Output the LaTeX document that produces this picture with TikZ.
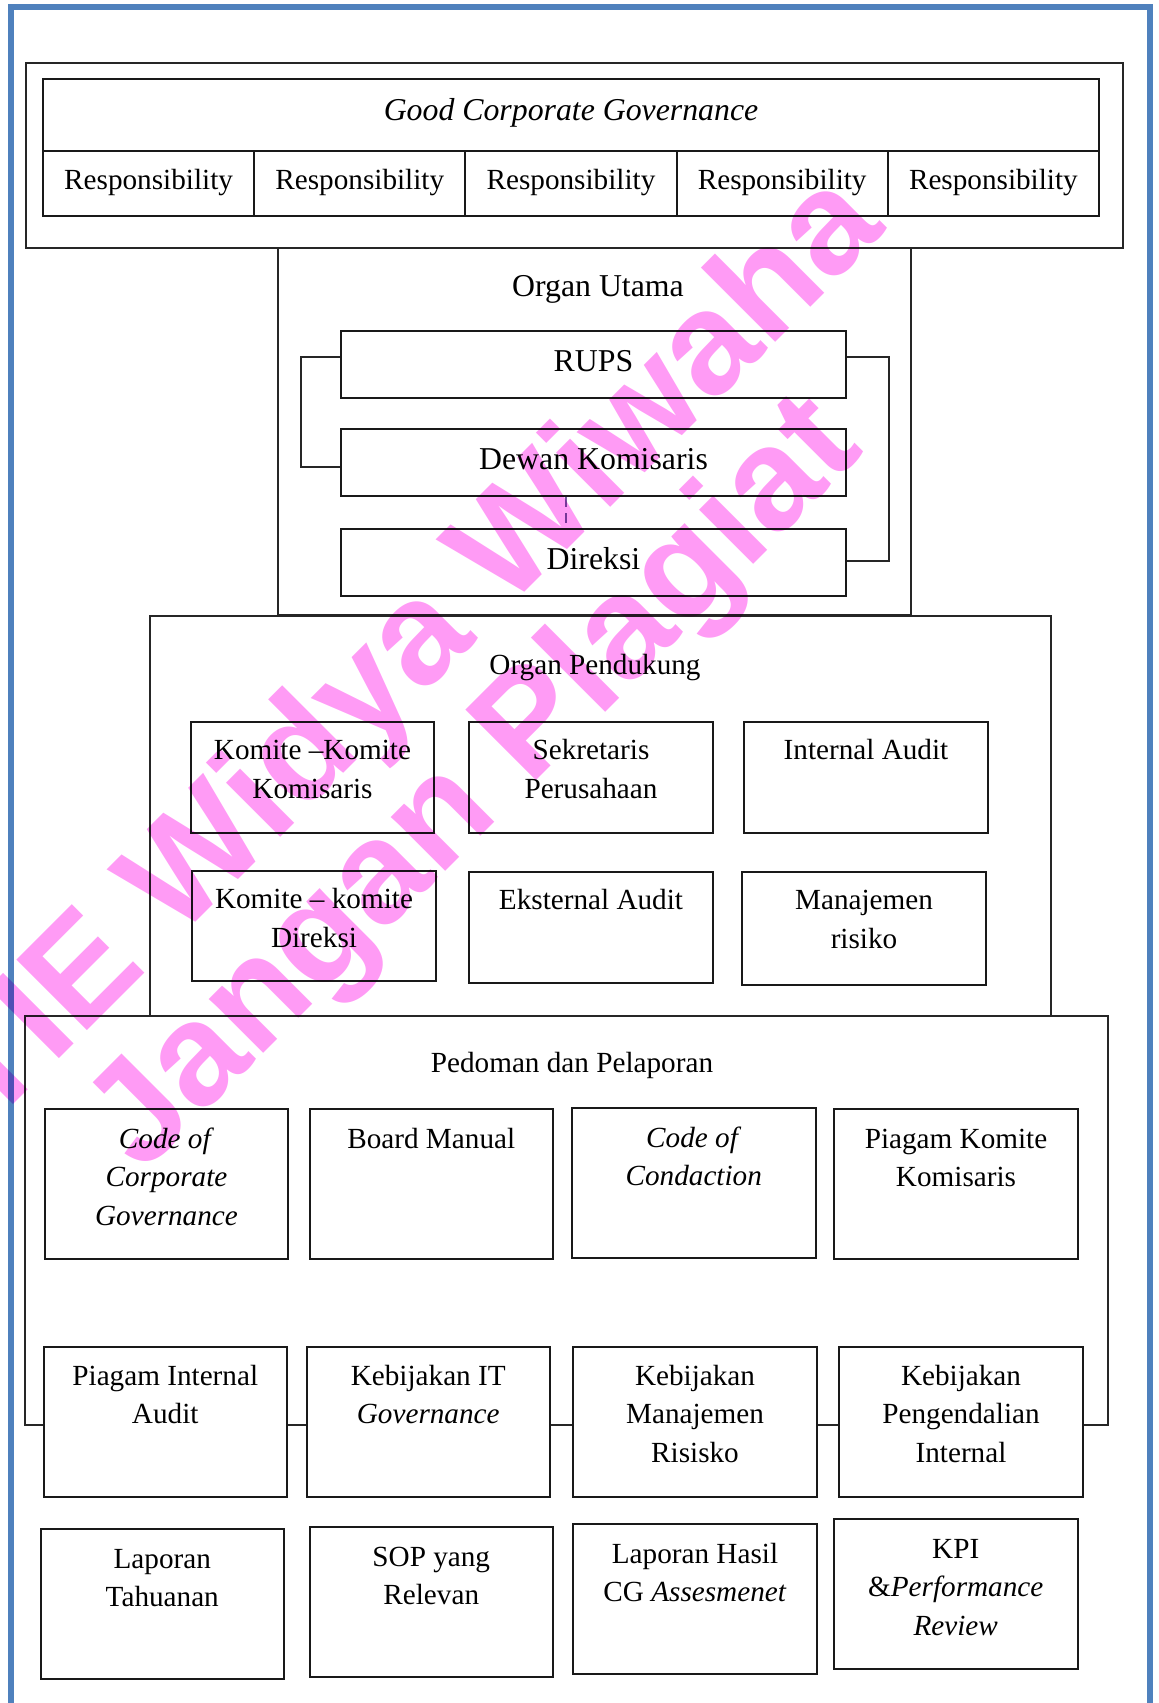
\documentclass[tikz,border=0pt]{standalone}
\usepackage{fontspec}
\setmainfont{Liberation Serif}
\newfontfamily\wmfont{Liberation Sans Bold}
\usetikzlibrary{positioning}

\definecolor{frameblue}{RGB}{79,129,189}
\definecolor{dashpurple}{RGB}{118,90,160}
\definecolor{wmpink}{RGB}{255,155,245}

\begin{document}
\begin{tikzpicture}[
    x=0.5pt, y=-0.5pt,
    bluefrm/.style={draw=frameblue, line width=3pt},
    part/.style={draw=black!85, line width=0.8pt, inner sep=0pt},
    box/.style={draw=black!90, line width=1pt, fill=white, inner sep=0pt},
    wh/.style 2 args={minimum width=#1*0.5pt, minimum height=#2*0.5pt},
    big/.style={font=\fontsize{15.9}{19.25}\selectfont, text height=11pt, text depth=4.5pt},
    cell/.style={font=\fontsize{14.6}{19.25}\selectfont, text height=10.5pt, text depth=4.5pt},
    head/.style={anchor=base, inner sep=0pt},
    txt/.style={anchor=base, align=flush center, text width=125pt, inner sep=0pt, font=\fontsize{14.6}{19.25}\selectfont},
    link/.style={draw=black!85, line width=0.8pt},
    dashlink/.style={draw=dashpurple, line width=1.4pt, dash pattern=on 5pt off 3pt},
    wmark/.style={rotate=45, align=center, text=wmpink, inner sep=0pt, font=\wmfont\fontsize{72.5}{70.5}\selectfont}
]
\useasboundingbox (0,0) rectangle (1158,1703);
\draw[bluefrm] (10.5,1720) -- (10.5,7) -- (1149.5,7) -- (1149.5,1720);

% containers
\node[part, wh={1097}{185}] (gcgout) at (574.5,155.5) {};
\node[part, wh={633}{367}] (utama) at (594.5,431.5) {};
\node[part, wh={901}{400}] (dukung) at (600.5,816) {};
\node[part, wh={1083}{409}] (pedoman) at (566.5,1220.5) {};

% GCG
\node[box, wh={1056}{72}, big, text depth=5.5pt] (gcg) at (571,115) {\textit{Good Corporate Governance}};
\foreach \i in {0,...,4}
    \node[box, wh={211.2}{65}, cell] (resp\i) at ({148.6+211.2*\i},183.5) {Responsibility};

% organ utama
\node[head, font=\fontsize{15.9}{19.25}\selectfont] (utama-lbl) at (598,296.4) {Organ Utama};
\node[box, wh={505}{67}, big] (rups) at (593.5,364.5) {RUPS};
\node[box, wh={505}{67}, big] (dewan) at (593.5,462.5) {Dewan Komisaris};
\node[box, wh={505}{67}, big] (direksi) at (593.5,562.5) {Direksi};

\draw[link] (rups.west |- 0,357) -- ++(-39,0) |- (dewan.west |- 0,467);
\draw[link] (rups.east |- 0,357) -- ++(42,0) |- (direksi.east |- 0,561);
\draw[dashlink] (dewan.south -| 566,0) -- (direksi.north -| 566,0);

% organ pendukung
\node[head, font=\fontsize{14.6}{19.25}\selectfont] (dukung-lbl) at (595,674) {Organ Pendukung};
\node[box, wh={243}{111}] (kkom) at (312.5,777.5) {};
\node[box, wh={244}{111}] (sekr) at (591,777.5) {};
\node[box, wh={244}{111}] (intaud) at (866,777.5) {};
\node[box, wh={244}{110}] (kdir) at (314,926) {};
\node[box, wh={244}{111}] (ekst) at (591,927.5) {};
\node[box, wh={244}{113}] (manris) at (864,928.5) {};

\node[txt] (kkom-t) at ([yshift=-19.25pt]kkom.north) {Komite –Komite\\Komisaris};
\node[txt] (sekr-t) at ([yshift=-19.25pt]sekr.north) {Sekretaris\\Perusahaan};
\node[txt] (intaud-t) at ([yshift=-19.25pt]intaud.north) {Internal Audit};
\node[txt] (kdir-t) at ([yshift=-19.25pt]kdir.north) {Komite – komite\\Direksi};
\node[txt] (ekst-t) at ([yshift=-19.25pt]ekst.north) {Eksternal Audit};
\node[txt] (manris-t) at ([yshift=-19.25pt]manris.north) {Manajemen\\risiko};

% pedoman dan pelaporan
\node[head, font=\fontsize{14.6}{19.25}\selectfont] (pedoman-lbl) at (572,1072) {Pedoman dan Pelaporan};
\node[box, wh={243}{150}] (cocg) at (166.5,1184) {};
\node[box, wh={243.5}{150}] (board) at (431.25,1184) {};
\node[box, wh={243.5}{150}] (cocond) at (693.75,1183) {};
\node[box, wh={244}{150}] (pkk) at (956,1184) {};
\node[box, wh={243.5}{150}] (pia) at (165.25,1422) {};
\node[box, wh={243.5}{150}] (kit) at (428.25,1422) {};
\node[box, wh={244}{150}] (kmr) at (695,1422) {};
\node[box, wh={244}{150}] (kpe) at (961,1422) {};
\node[box, wh={243.5}{150}] (lapt) at (162.25,1604) {};
\node[box, wh={243.5}{150}] (sop) at (431.25,1602) {};
\node[box, wh={244}{150}] (lhcg) at (695,1599) {};
\node[box, wh={243.5}{150}] (kpi) at (955.75,1594) {};

\node[txt] (cocg-t) at ([yshift=-20pt]cocg.north) {\textit{Code of}\\\textit{Corporate}\\\textit{Governance}};
\node[txt] (board-t) at ([yshift=-20pt]board.north) {Board Manual};
\node[txt] (cocond-t) at ([yshift=-20pt]cocond.north) {\textit{Code of}\\\textit{Condaction}};
\node[txt] (pkk-t) at ([yshift=-20pt]pkk.north) {Piagam Komite\\Komisaris};
\node[txt] (pia-t) at ([yshift=-19.5pt]pia.north) {Piagam Internal\\Audit};
\node[txt] (kit-t) at ([yshift=-19.5pt]kit.north) {Kebijakan IT\\\textit{Governance}};
\node[txt] (kmr-t) at ([yshift=-19.5pt]kmr.north) {Kebijakan\\Manajemen\\Risisko};
\node[txt] (kpe-t) at ([yshift=-19.5pt]kpe.north) {Kebijakan\\Pengendalian\\Internal};
\node[txt] (lapt-t) at ([yshift=-20pt]lapt.north) {Laporan\\Tahuanan};
\node[txt] (sop-t) at ([yshift=-20pt]sop.north) {SOP yang\\Relevan};
\node[txt] (lhcg-t) at ([yshift=-20pt]lhcg.north) {Laporan Hasil\\CG \textit{Assesmenet}};
\node[txt] (kpi-t) at ([yshift=-20pt]kpi.north) {KPI\\\&\textit{Performance}\\\textit{Review}};

% watermark
\begin{scope}[blend mode=multiply]
\node[wmark] (wm) at (428,737) {STIE Widya Wiwaha\\Jangan Plagiat};
\end{scope}

\end{tikzpicture}
\end{document}
